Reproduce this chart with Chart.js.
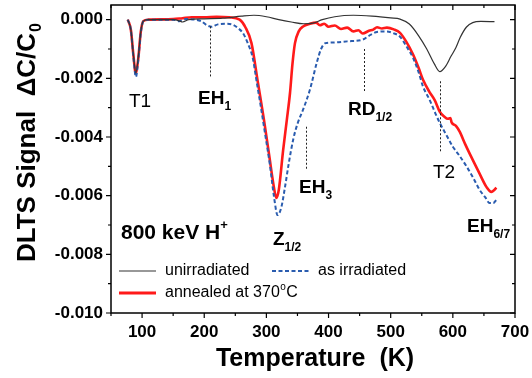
<!DOCTYPE html>
<html>
<head>
<meta charset="utf-8">
<script src="https://cdn.jsdelivr.net/npm/chart.js@4"></script>
<style>
  html, body { margin: 0; padding: 0; background: #fff; }
</style>
</head>
<body>
<canvas id="chart-1" width="532" height="378"></canvas>
<script>
// DLTS spectra, 800 keV H+ (values in units of 1e-3 dC/C0)

const tUnirr = [77, 82, 86, 90, 94, 98, 102, 110, 130, 150, 160, 165, 175, 200, 230, 260, 280, 300, 320, 340, 360, 375, 390, 410, 440, 470, 500, 515, 530, 545, 558, 570, 579, 588, 597, 605, 612, 622, 632, 645, 667];
const vUnirr = [0, -0.35, -1.2, -1.82, -1.25, -0.4, -0.05, 0, 0, 0, -0.04, -0.08, 0, 0.03, 0.05, 0.12, 0.15, 0.1, 0, -0.08, -0.14, -0.12, 0, 0.1, 0.15, 0.12, 0.06, 0.02, -0.15, -0.55, -1.0, -1.5, -1.77, -1.6, -1.25, -0.95, -0.6, -0.25, -0.1, -0.06, -0.07];

const tIrr = [77, 82, 86, 90, 94, 98, 102, 110, 150, 160, 170, 185, 195, 205, 212, 222, 235, 246, 255, 262, 270, 278, 285, 290, 298, 306, 312, 318, 324, 330, 336, 343, 350, 359, 370, 381, 388, 395, 407, 430, 455, 465, 478, 494, 503, 515, 525, 536, 545, 552, 563, 572, 579, 590, 600, 611, 622, 633, 643, 652, 659, 665, 670];
const vIrr = [0, -0.35, -1.25, -1.95, -1.35, -0.45, -0.05, 0, 0, -0.05, 0.02, 0, -0.05, -0.2, -0.24, -0.16, -0.14, -0.17, -0.3, -0.45, -0.8, -1.3, -2.2, -2.83, -3.9, -5.0, -6.0, -6.66, -6.4, -5.7, -4.9, -4.1, -3.55, -3.07, -2.39, -1.47, -1.0, -0.8, -0.78, -0.74, -0.68, -0.55, -0.42, -0.4, -0.45, -0.58, -0.9, -1.3, -1.8, -2.28, -2.75, -3.2, -3.52, -3.95, -4.33, -4.65, -5.0, -5.4, -5.8, -6.05, -6.25, -6.25, -6.14];

const tAnn = [77, 82, 86, 90, 94, 98, 102, 110, 150, 165, 180, 200, 220, 240, 257, 266, 276, 286, 296, 305, 312, 316, 320, 327, 333, 338, 342, 346, 352, 359, 370, 380, 386, 393, 400, 410, 420, 430, 440, 448, 455, 465, 472, 478, 486, 494, 505, 515, 525, 536, 545, 552, 562, 571, 579, 586, 592, 596, 598, 605, 611, 620, 632, 643, 654, 662, 667, 670];
const vAnn = [0, -0.35, -1.2, -1.85, -1.3, -0.4, -0.05, 0, 0.02, 0.05, 0.08, 0.08, 0.1, 0.08, 0, -0.25, -0.8, -2.1, -3.4, -4.7, -5.7, -6.08, -5.8, -4.44, -3.4, -2.5, -1.5, -0.8, -0.4, -0.23, -0.14, -0.1, -0.19, -0.14, -0.24, -0.2, -0.32, -0.27, -0.4, -0.36, -0.47, -0.38, -0.34, -0.26, -0.3, -0.27, -0.33, -0.45, -0.75, -1.19, -1.65, -2.05, -2.45, -2.75, -3.14, -3.3, -3.38, -3.35, -3.5, -3.62, -3.82, -4.25, -4.78, -5.25, -5.7, -5.87, -5.8, -5.73];

const seriesLabels = ["unirradiated", "as irradiated", "annealed at 370°C"];

// dotted marker lines: temperature, top value, bottom value (1e-3)
const markerT = [209, 363, 457, 580];
const markerTop = [-0.23, -3.65, -1.0, -2.1];
const markerBottom = [-1.95, -5.1, -2.45, -4.5];

const yTicks = [0, -2, -4, -6, -8, -10];
const xTicks = [100, 200, 300, 400, 500, 600, 700];

const pts = (t, v) => t.map((x, i) => ({ x: x, y: v[i] * 0.001 }));
const FONT = "'Liberation Sans', Arial, sans-serif";

function subLabel(ctx, main, sub, x, base, size, bold) {
  ctx.font = (bold ? "bold " : "") + size + "px " + FONT;
  ctx.textAlign = "left";
  ctx.textBaseline = "alphabetic";
  ctx.fillText(main, x, base);
  const w = ctx.measureText(main).width;
  ctx.font = (bold ? "bold " : "") + Math.round(size * 0.62) + "px " + FONT;
  ctx.fillText(sub, x + w, base + 6);
}

const annotate = {
  id: "annotate",
  afterDraw(chart) {
    const { ctx, chartArea: a, scales: { x, y } } = chart;
    ctx.save();

    // marker lines
    ctx.strokeStyle = "#222";
    ctx.lineWidth = 1;
    ctx.setLineDash([2, 2]);
    markerT.forEach((t, i) => {
      const px = Math.round(x.getPixelForValue(t)) + 0.5;
      ctx.beginPath();
      ctx.moveTo(px, y.getPixelForValue(markerTop[i] * 0.001));
      ctx.lineTo(px, y.getPixelForValue(markerBottom[i] * 0.001));
      ctx.stroke();
    });
    ctx.setLineDash([]);

    // frame and ticks
    ctx.strokeStyle = "#000";
    ctx.lineWidth = 1.5;
    ctx.strokeRect(a.left, a.top, a.width, a.height);
    ctx.lineWidth = 1.2;
    ctx.beginPath();
    for (let t = 50; t <= 700; t += 50) {
      const px = x.getPixelForValue(t), len = t % 100 === 0 ? 5 : 3;
      ctx.moveTo(px, a.bottom); ctx.lineTo(px, a.bottom + len);
      ctx.moveTo(px, a.top); ctx.lineTo(px, a.top + len);
    }
    for (let k = 0; k <= 10; k++) {
      const py = y.getPixelForValue(-k * 0.001), len = k % 2 === 0 ? 5 : 3;
      ctx.moveTo(a.left, py); ctx.lineTo(a.left - len, py);
      ctx.moveTo(a.right, py); ctx.lineTo(a.right - len, py);
    }
    ctx.stroke();

    ctx.fillStyle = "#000";

    // peak labels
    ctx.font = "19px " + FONT;
    ctx.textAlign = "left";
    ctx.textBaseline = "alphabetic";
    ctx.fillText("T1", 129, 107);
    ctx.fillText("T2", 433, 178);
    subLabel(ctx, "EH", "1", 198, 104, 19, true);
    subLabel(ctx, "EH", "3", 299, 193, 19, true);
    subLabel(ctx, "RD", "1/2", 348, 115, 19, true);
    subLabel(ctx, "Z", "1/2", 273, 245, 19, true);
    subLabel(ctx, "EH", "6/7", 467, 232, 19, true);

    ctx.font = "bold 21px " + FONT;
    ctx.fillText("800 keV H", 121, 239);
    const hw = ctx.measureText("800 keV H").width;
    ctx.font = "bold 13px " + FONT;
    ctx.fillText("+", 121 + hw, 229);

    // legend
    ctx.lineWidth = 1.2;
    ctx.strokeStyle = "#333";
    ctx.beginPath(); ctx.moveTo(119, 271); ctx.lineTo(156, 271); ctx.stroke();
    ctx.lineWidth = 2;
    ctx.strokeStyle = "#2a5caf";
    ctx.setLineDash([4, 2.5]);
    ctx.beginPath(); ctx.moveTo(272, 271); ctx.lineTo(311, 271); ctx.stroke();
    ctx.setLineDash([]);
    ctx.lineWidth = 3;
    ctx.strokeStyle = "#ff1a1a";
    ctx.beginPath(); ctx.moveTo(119, 293); ctx.lineTo(156, 293); ctx.stroke();

    ctx.font = "16px " + FONT;
    ctx.textBaseline = "middle";
    ctx.fillText(seriesLabels[0], 165, 271);
    ctx.fillText(seriesLabels[1], 318, 271);
    ctx.fillText("annealed at 370", 165, 293);
    let w = ctx.measureText("annealed at 370").width;
    ctx.font = "10px " + FONT;
    ctx.fillText("o", 165 + w + 0.5, 287);
    ctx.font = "16px " + FONT;
    ctx.fillText("C", 165 + w + 6.5, 293);

    // axis titles
    ctx.textBaseline = "alphabetic";
    ctx.font = "bold 25px " + FONT;
    ctx.textAlign = "center";
    ctx.fillText("Temperature  (K)", 315, 366);

    ctx.save();
    ctx.translate(35, 262);
    ctx.rotate(-Math.PI / 2);
    ctx.textAlign = "left";
    ctx.font = "bold 26px " + FONT;
    ctx.fillText("DLTS Signal  \u0394C/C", 0, 0);
    w = ctx.measureText("DLTS Signal  \u0394C/C").width;
    ctx.font = "bold 16px " + FONT;
    ctx.fillText("0", w + 1, 6);
    ctx.restore();

    ctx.restore();
  }
};

const ctx1 = document.getElementById("chart-1").getContext("2d");
const myChart = new Chart(ctx1, {
  type: "line",
  data: {
    datasets: [
      {
        label: seriesLabels[0],
        data: pts(tUnirr, vUnirr),
        borderColor: "#333333",
        borderWidth: 1.2,
      },
      {
        label: seriesLabels[1],
        data: pts(tIrr, vIrr),
        borderColor: "#2a5caf",
        borderWidth: 2,
        borderDash: [4, 2.5],
      },
      {
        label: seriesLabels[2],
        data: pts(tAnn, vAnn),
        borderColor: "#ff1a1a",
        borderWidth: 2.6,
      },
    ],
  },
  options: {
    responsive: false,
    animation: false,
    layout: { padding: { left: 0, top: 5, right: 17, bottom: 0 } },
    elements: {
      point: { radius: 0 },
      line: { cubicInterpolationMode: "monotone", fill: false },
    },
    plugins: { legend: { display: false }, tooltip: { enabled: false } },
    scales: {
      x: {
        type: "linear",
        min: 50,
        max: 700,
        grid: { display: false, drawTicks: false },
        border: { display: false },
        afterBuildTicks: (s) => { s.ticks = xTicks.map((v) => ({ value: v })); },
        afterFit: (s) => { s.height = 65; s.paddingLeft = 0; s.paddingRight = 0; },
        ticks: {
          padding: 9,
          color: "#000",
          font: { family: FONT, size: 17, weight: "bold" },
          maxRotation: 0,
        },
      },
      y: {
        type: "linear",
        min: -0.010,
        max: 0.0005,
        grid: { display: false, drawTicks: false },
        border: { display: false },
        afterBuildTicks: (s) => { s.ticks = yTicks.map((v) => ({ value: v * 0.001 })); },
        afterFit: (s) => { s.width = 111; s.paddingTop = 0; s.paddingBottom = 0; },
        ticks: {
          padding: 8,
          color: "#000",
          font: { family: FONT, size: 17, weight: "bold" },
          callback: (v) => v.toFixed(3),
        },
      },
    },
  },
  plugins: [annotate],
});
</script>
</body>
</html>
